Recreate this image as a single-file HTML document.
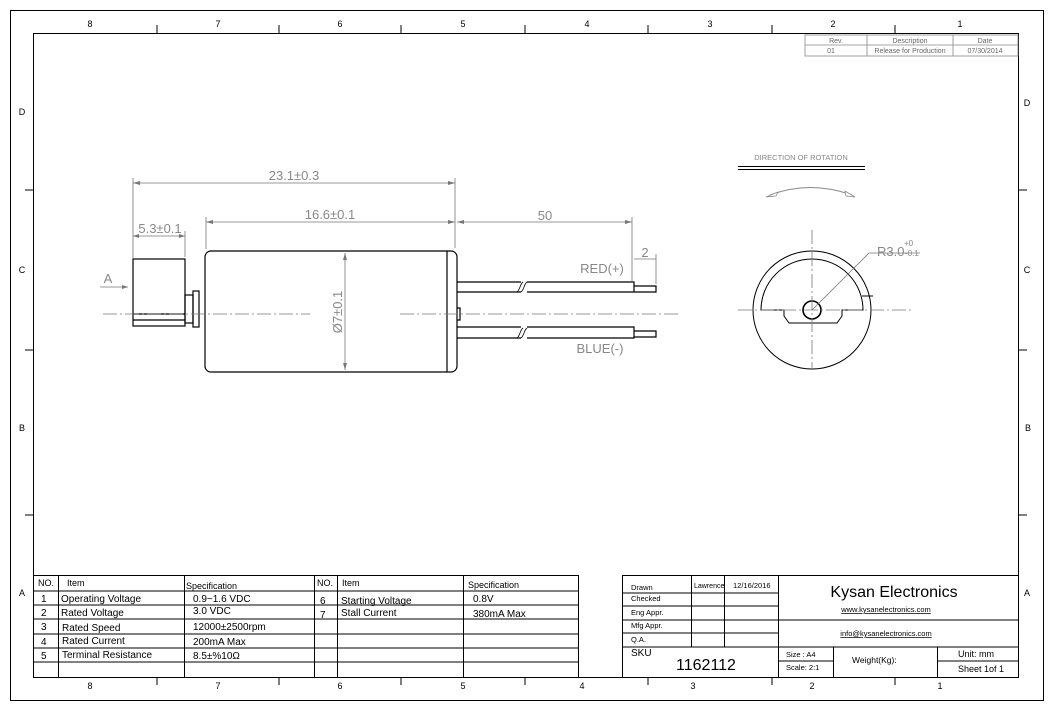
<!DOCTYPE html>
<html><head><meta charset="utf-8"><style>
html,body{margin:0;padding:0;background:#fff;}
svg{display:block;font-family:"Liberation Sans",sans-serif;}
</style></head><body>
<svg width="1054" height="709" viewBox="0 0 1054 709" xmlns="http://www.w3.org/2000/svg">
<rect x="0" y="0" width="1054" height="709" fill="#fff"/>
<g fill="none" stroke="#000" stroke-width="1">
<rect x="10.5" y="10.5" width="1033" height="690"/>
<rect x="33.5" y="33.5" width="985" height="644"/>
<path d="M157 25v8M279 25v8M401 25v8M525 25v8M648 25v8M772 25v8M895 25v8M157 677v8M279 677v8M401 677v8M525 677v8M648 677v8M772 677v8M895 677v8M25 190h8M25 350h8M25 515h8M1019 190h8M1019 350h8M1019 515h8"/>
</g>
<g font-size="9" fill="#000" text-anchor="middle">
<text x="90" y="27">8</text><text x="218" y="27">7</text><text x="340" y="27">6</text><text x="463" y="27">5</text><text x="587" y="27">4</text><text x="710" y="27">3</text><text x="833" y="27">2</text><text x="960" y="27">1</text>
<text x="90" y="689">8</text><text x="218" y="689">7</text><text x="340" y="689">6</text><text x="463" y="689">5</text><text x="582" y="689">4</text><text x="693" y="689">3</text><text x="812" y="689">2</text><text x="940" y="689">1</text>
<text x="22" y="115">D</text><text x="22" y="273">C</text><text x="22" y="431">B</text><text x="22" y="596">A</text>
<text x="1027" y="106">D</text><text x="1027" y="273">C</text><text x="1028" y="431">B</text><text x="1027" y="596">A</text>
</g>
<g fill="none" stroke="#888" stroke-width="0.8">
<rect x="805" y="35" width="213" height="21"/><path d="M805 45h213M867 35v21M953 35v21"/>
</g>
<g font-size="7" fill="#666" text-anchor="middle">
<text x="836" y="43">Rev.</text><text x="910" y="43">Description</text><text x="985" y="43">Date</text>
<text x="831" y="53">01</text><text x="910" y="53">Release for Production</text><text x="985" y="53">07/30/2014</text>
</g>
<g fill="none" stroke="#000" stroke-width="1.2">
<rect x="133" y="259" width="52" height="67"/>
<path d="M133 314h52M133 320h52"/>
<rect x="185" y="295" width="8" height="28"/>
<rect x="193" y="291" width="6" height="36"/>
<rect x="205" y="251" width="252" height="121" rx="6"/>
<path d="M447 251v121M457 308h3v12h-3"/>
<path d="M457 282h64M527 282h107v10H527M521 292h-64M634 286h22v6h-22"/>
<path d="M457 327h64M527 327h107v11H527M521 338h-64M634 331h22v6h-22"/>
<path d="M521 292c3-2 3-8 6-10M517 292c3-2 3-8 6-10M521 338c3-2 3-8 6-10M517 338c3-2 3-8 6-10" stroke-width="0.8"/>
</g>
<g stroke="#777" stroke-width="0.8" fill="none">
<path d="M103 314H310M400 314H680" stroke-dasharray="14 3 2 3"/>
<path d="M133 178v80M455 178v70M206 217v32M185 231v26M632 217v64M656 254v30"/>
<path d="M133 183H455M206 222H455M457 222H632M133 236H185M634 259h22M345 253v117M100 287h28"/>
</g>
<g fill="#777">
<path d="M133 183l7-2v4zM455 183l-7-2v4zM206 222l7-2v4zM455 222l-7-2v4zM457 222l7-2v4zM632 222l-7-2v4zM133 236l6-2v4zM185 236l-6-2v4zM345 253l-2 7h4zM345 370l-2-7h4zM128 287l-6-2v4z"/>
</g>
<g fill="#888" font-size="13" text-anchor="middle">
<text x="294" y="180">23.1±0.3</text>
<text x="330" y="219">16.6±0.1</text>
<text x="545" y="220">50</text>
<text x="160" y="233">5.3±0.1</text>
<text x="645" y="257">2</text>
<text x="602" y="273">RED(+)</text>
<text x="600" y="353">BLUE(-)</text>
<text x="108" y="283">A</text>
<text transform="translate(345 312) rotate(-90)" x="0" y="-3">Ø7±0.1</text>
</g>
<g fill="#888" font-size="7.5" text-anchor="middle"><text x="801" y="160">DIRECTION OF ROTATION</text></g>
<path d="M738 166.5h127M738 169.5h127" stroke="#000" stroke-width="1"/>
<path d="M770 195Q810 180 852 195" fill="none" stroke="#888"/>
<path d="M766 197l12-5-2 4zM855 197l-10-6 1 5z" fill="#fff" stroke="#888" stroke-width="0.8"/>
<g fill="none" stroke="#000" stroke-width="1">
<circle cx="812" cy="310" r="59"/>
<path d="M761 310A51 51 0 0 1 863 310H842v6l-5 7h-48l-5-7v-6H761Z"/>
<circle cx="812" cy="310" r="9" stroke-width="1.6"/>
<path d="M862 296h11"/>
</g>
<g stroke="#777" stroke-width="0.8" fill="none">
<path d="M738 310H912M812 230v140" stroke-dasharray="14 3 2 3"/>
<path d="M812 310L869 253H920"/>
</g>
<g fill="#888"><text x="877" y="256" font-size="13">R3.0</text><text x="904" y="246" font-size="8">+0</text><text x="905" y="256" font-size="8">-0.1</text></g>
<g fill="none" stroke="#000" stroke-width="1">
<rect x="33.5" y="575.5" width="545" height="102"/>
<path d="M33 591h545M33 605h545M33 619h545M33 634h545M33 648h545M33 662h545M58.5 575v102M184.5 575v102M314.5 575v102M337.5 575v102M463.5 575v102"/>
</g>
<g font-size="9" fill="#000">
<text x="38" y="586">NO.</text><text x="67" y="586">Item</text><text x="186" y="589">Specification</text>
<text x="317" y="586">NO.</text><text x="342" y="586">Item</text><text x="468" y="588">Specification</text>
<g font-size="10">
<text x="41" y="602">1</text><text x="61" y="602">Operating Voltage</text><text x="193" y="602">0.9~1.6 VDC</text>
<text x="41" y="616">2</text><text x="61" y="616">Rated Voltage</text><text x="193" y="614">3.0 VDC</text>
<text x="41" y="630">3</text><text x="62" y="631">Rated Speed</text><text x="193" y="630">12000±2500rpm</text>
<text x="41" y="645">4</text><text x="62" y="644">Rated Current</text><text x="193" y="645">200mA Max</text>
<text x="41" y="659">5</text><text x="62" y="658">Terminal Resistance</text><text x="193" y="659">8.5±%10Ω</text>
<text x="320" y="604">6</text><text x="341" y="604">Starting Voltage</text><text x="473" y="602">0.8V</text>
<text x="320" y="618">7</text><text x="341" y="616">Stall Current</text><text x="473" y="617">380mA Max</text>
</g></g>
<g fill="none" stroke="#000" stroke-width="1">
<rect x="622.5" y="575.5" width="396" height="102"/>
<path d="M622 593h156M622 606h156M622 620h156M622 633h156M622 647h396M691.5 575v72M724.5 575v72M778.5 575v102M778 620h240M833.5 647v30M937.5 647v30M937 661h81M778 661h55"/>
</g>
<g font-size="7.5" fill="#000">
<text x="631" y="590">Drawn</text><text x="631" y="601">Checked</text><text x="631" y="615">Eng Appr.</text><text x="631" y="628">Mfg Appr.</text><text x="631" y="642">Q.A.</text>
<text x="694" y="588" font-size="7">Lawrence</text><text x="733" y="588">12/16/2016</text>
<text x="631" y="656" font-size="10">SKU</text>
<text x="706" y="670" font-size="16" text-anchor="middle">1162112</text>
<text x="894" y="597" font-size="16" text-anchor="middle">Kysan Electronics</text>
<text x="886" y="612" text-anchor="middle" text-decoration="underline">www.kysanelectronics.com</text>
<text x="886" y="636" text-anchor="middle" text-decoration="underline">info@kysanelectronics.com</text>
<text x="786" y="657">Size : A4</text><text x="786" y="670">Scale: 2:1</text>
<text x="852" y="663" font-size="8.5">Weight(Kg):</text>
<text x="958" y="657" font-size="9">Unit: mm</text><text x="958" y="672" font-size="9">Sheet 1of 1</text>
</g>
</svg>
</body></html>
